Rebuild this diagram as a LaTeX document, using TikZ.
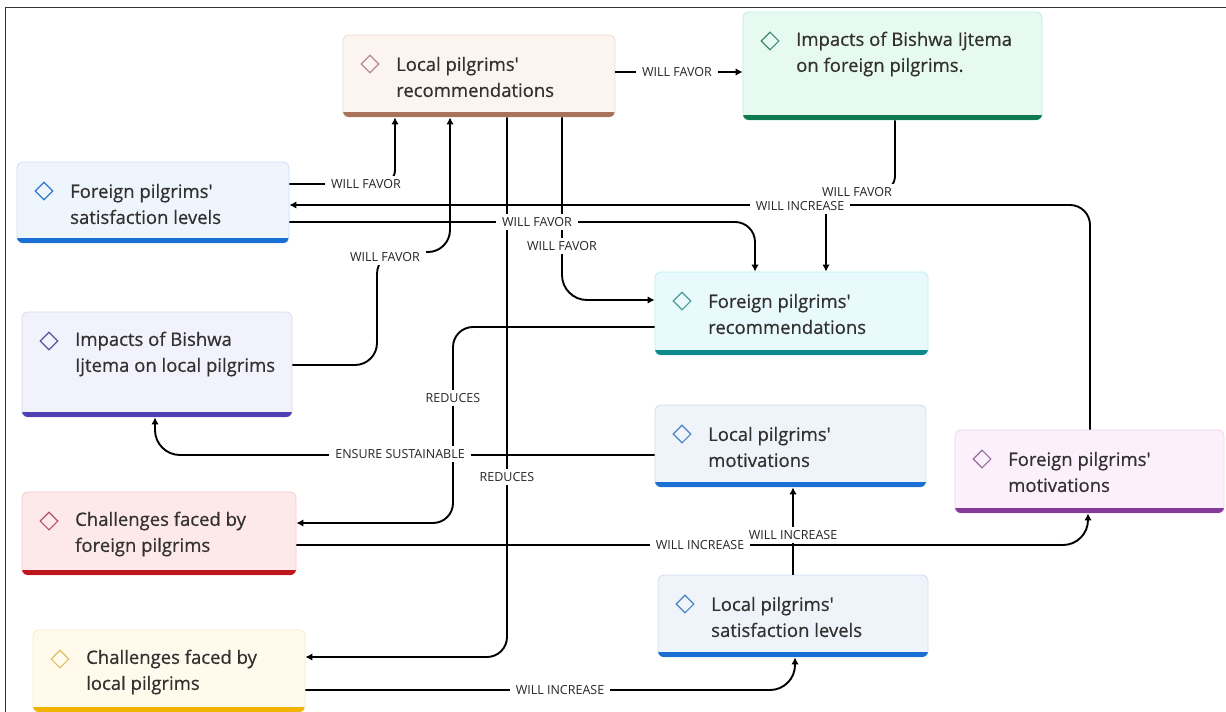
\documentclass[tikz,border=0pt]{standalone}
\usepackage{fontspec}
\usetikzlibrary{arrows.meta,shapes.geometric}
\newfontfamily\pgff{Open Sans}
\newfontfamily\pgffb{Open Sans}[FakeBold=0.5]
\newcommand\pgbox{\pgffb\fontsize{18.5}{26}\selectfont}
\newcommand\pglbl{\pgff\fontsize{12.5}{14}\selectfont}
\newcommand\apos{\char"0027}
\definecolor{txtc}{HTML}{323130}
% box colours: F fill, B border, R bar, D diamond
\definecolor{lprF}{HTML}{FCF4F0}\definecolor{lprB}{HTML}{EEDDD4}\definecolor{lprR}{HTML}{A8735A}\definecolor{lprD}{HTML}{B98C8C}
\definecolor{ifpF}{HTML}{E7FAF1}\definecolor{ifpB}{HTML}{BFEFD8}\definecolor{ifpR}{HTML}{0F7A50}\definecolor{ifpD}{HTML}{3F8A72}
\definecolor{fslF}{HTML}{EEF5FD}\definecolor{fslB}{HTML}{CCE0F6}\definecolor{fslR}{HTML}{1A6FD4}\definecolor{fslD}{HTML}{2E78CF}
\definecolor{fprF}{HTML}{E8FAFC}\definecolor{fprB}{HTML}{BFEFF4}\definecolor{fprR}{HTML}{0F898E}\definecolor{fprD}{HTML}{4C9A9A}
\definecolor{ilpF}{HTML}{F1F2FB}\definecolor{ilpB}{HTML}{D8DAF0}\definecolor{ilpR}{HTML}{4F40B4}\definecolor{ilpD}{HTML}{5558A0}
\definecolor{lpmF}{HTML}{EFF4FB}\definecolor{lpmB}{HTML}{D0DDEE}\definecolor{lpmR}{HTML}{1A6FD4}\definecolor{lpmD}{HTML}{4A82C2}
\definecolor{fpmF}{HTML}{FCF0FC}\definecolor{fpmB}{HTML}{EFD3EF}\definecolor{fpmR}{HTML}{863A99}\definecolor{fpmD}{HTML}{9A6C9A}
\definecolor{cffF}{HTML}{FDE9EA}\definecolor{cffB}{HTML}{F5CACC}\definecolor{cffR}{HTML}{BF151C}\definecolor{cffD}{HTML}{B25262}
\definecolor{lslF}{HTML}{EFF4FB}\definecolor{lslB}{HTML}{D0DDEE}\definecolor{lslR}{HTML}{1A6FD4}\definecolor{lslD}{HTML}{4A82C2}
\definecolor{cflF}{HTML}{FFFAEC}\definecolor{cflB}{HTML}{F6EAC6}\definecolor{cflR}{HTML}{F0B400}\definecolor{cflD}{HTML}{DDC060}
\tikzset{
  pnode/.style={rectangle, rounded corners=6pt, line width=0.8pt, inner sep=0pt},
  picon/.style={diamond, line width=1.1pt, minimum width=18pt, minimum height=18pt, inner sep=0pt},
  ptext/.style={anchor=west, align=left, inner sep=0pt, text=txtc, font=\pgbox},
  conn/.style={draw=black, line width=1.9pt, rounded corners=20pt, -{Latex[length=7pt,width=7.5pt]}},
  lbl/.style={fill=white, inner xsep=6pt, inner ysep=3pt, text=black!85, font=\pglbl},
}
% name, x1, y1, x2, y2, colour prefix, text
\newcommand\pbox[7]{%
  \node[pnode, fill=#6F, draw=#6B, minimum width={(#4-#2)*1pt}, minimum height={(#5-#3)*1pt}] (#1) at ({(#2+#4)/2},{(#3+#5)/2}) {};
  \begin{scope}
    \clip[rounded corners=6pt] (#2,#3) rectangle (#4,#5);
    \fill[#6R] (#2,{#5-5}) rectangle (#4,#5);
  \end{scope}
  \node[picon, draw=#6D] (#1-icon) at ({#2+27},{#3+29}) {};
  \node[ptext] (#1-text) at ({#2+53},{#3+42}) {#7};
}
\begin{document}
\begin{tikzpicture}[x=1pt,y=-1pt]
\useasboundingbox (0,0) rectangle (1226,712);
\fill[white] (0,0) rectangle (1226,712);
\draw[line width=1pt, black!80] (5,712) -- (5,7) -- (1226,7);

\pbox{lpr}{343}{35}{615}{117}{lpr}{Local pilgrims\apos\\recommendations}
\pbox{ifp}{743}{12}{1042}{120}{ifp}{Impacts of Bishwa Ijtema\\on foreign pilgrims.}
\pbox{fsl}{17}{162}{289}{243}{fsl}{Foreign pilgrims\apos\\satisfaction levels}
\pbox{fpr}{655}{272}{928}{355}{fpr}{Foreign pilgrims\apos\\recommendations}
\pbox{ilp}{22}{312}{292}{417}{ilp}{Impacts of Bishwa\\Ijtema on local pilgrims}
\pbox{lpm}{655}{405}{926}{487}{lpm}{Local pilgrims\apos\\motivations}
\pbox{fpm}{955}{430}{1224}{513}{fpm}{Foreign pilgrims\apos\\motivations}
\pbox{cff}{22}{492}{296}{575}{cff}{Challenges faced by\\foreign pilgrims}
\pbox{lsl}{658}{575}{928}{657}{lsl}{Local pilgrims\apos\\satisfaction levels}
\pbox{cfl}{33}{630}{305}{712}{cfl}{Challenges faced by\\local pilgrims}

% connector lines
\draw[conn, rounded corners=14pt] (fsl.east |- 0,184) -| (lpr.south -| 395,0);
\draw[conn, rounded corners=22pt] (ilp.east |- 0,365) -| (377,252) -| (lpr.south -| 450,0);
\draw[conn] (lpr.east |- 0,72) -- (ifp.west |- 0,72);
\draw[conn] (fsl.east |- 0,222) -| (fpr.north -| 755,0);
\draw[conn, rounded corners=15pt] (ifp.south -| 895,0) |- (860,191) -| (fpr.north -| 826,0);
\draw[conn] (fpm.north -| 1090,0) |- (fsl.east |- 0,205);
\draw[conn, rounded corners=25pt] (lpr.south -| 562,0) |- (fpr.west |- 0,300);
\draw[conn] (lpr.south -| 507,0) |- (cfl.east |- 0,657);
\draw[conn] (fpr.west |- 0,327) -| (453,420) |- (cff.east |- 0,523);
\draw[conn, rounded corners=25pt] (lpm.west |- 0,455) -| (ilp.south -| 155,0);
\draw[conn, rounded corners=25pt] (cff.east |- 0,545) -| (fpm.south -| 1088,0);
\draw[conn] (lsl.north -| 793,0) -- (lpm.south -| 793,0);
\draw[conn, rounded corners=25pt] (cfl.east |- 0,690) -| (lsl.south -| 795,0);

% labels
\node[lbl] (l1) at (366,184) {WILL FAVOR};
\node[lbl] (l2) at (385,257) {WILL FAVOR};
\node[lbl] (l3) at (677,72) {WILL FAVOR};
\node[lbl] (l4) at (537,222) {WILL FAVOR};
\node[lbl] (l6) at (800,206) {WILL INCREASE};
\node[lbl] (l5) at (857,192) {WILL FAVOR};
\node[lbl] (l13) at (562,246) {WILL FAVOR};
\node[lbl] (l7) at (507,477) {REDUCES};
\node[lbl] (l8) at (453,398) {REDUCES};
\node[lbl] (l9) at (400,454) {ENSURE SUSTAINABLE};
\node[lbl] (l10) at (700,545) {WILL INCREASE};
\node[lbl] (l11) at (793,535) {WILL INCREASE};
\node[lbl] (l12) at (560,690) {WILL INCREASE};
\end{tikzpicture}
\end{document}
